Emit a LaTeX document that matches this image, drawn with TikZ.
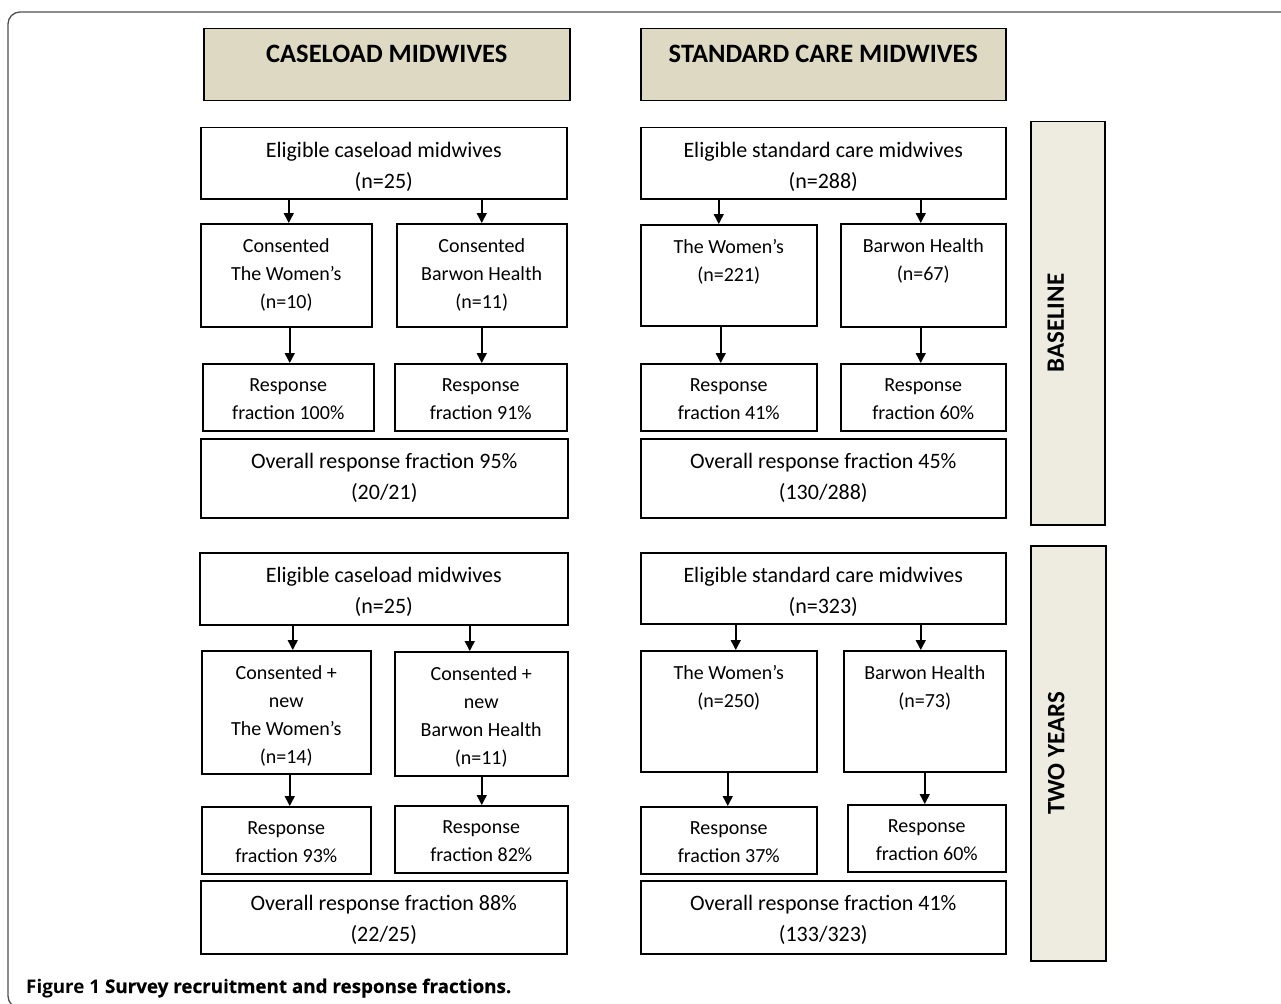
\documentclass[tikz,border=0pt]{standalone}
\usepackage{fontspec}
\setmainfont{Carlito}
\newfontfamily\capfont{Open Sans}
\newfontfamily\capmedium[FakeBold=0.4]{Open Sans}
\usetikzlibrary{arrows.meta,calc}
\definecolor{headfill}{HTML}{DDD9C3}
\definecolor{sidefill}{HTML}{EEECE1}
\definecolor{framegray}{HTML}{505050}
\tikzset{
	box/.style={draw,line width=1.5pt,anchor=north west,inner sep=0pt},
	big/.style={font=\fontsize{22}{31}\selectfont,align=center,anchor=north,inner sep=0pt,
		execute at begin node=\rule{0pt}{16pt}},
	small/.style={font=\fontsize{20}{28}\selectfont,align=center,anchor=north,inner sep=0pt,
		execute at begin node=\rule{0pt}{14.5pt}},
	head/.style={font=\fontsize{26.5}{30}\selectfont\bfseries,inner sep=0pt},
	arr/.style={->,line width=1.5pt},
}
% box: name, x, y, width, height, text style, text
\newcommand{\cellbox}[7]{%
	\node[box,minimum width=#4pt,minimum height=#5pt] (#1) at (#2,#3) {};
	\node[#6] (#1-t) at ([yshift=-15.5pt]#1.north) {#7};}
% arrow from box #1 down into box #2, moved sideways by #3
\newcommand{\flow}[3]{\draw[arr] ($(#2.north |- #1.south)+(#3,0)$) -- ($(#2.north)+(#3,0)$);}
\begin{document}
\begin{tikzpicture}[x=1pt,y=-1pt,>={Triangle[width=10pt,length=10pt]}]
	\useasboundingbox (0,0) rectangle (1281,1003);
	\draw[framegray,line width=1.3pt,rounded corners=12pt] (8,12) rectangle (1310,1008);
	% headings
	\node[box,fill=headfill,minimum width=366pt,minimum height=72pt] (hcl) at (203,28) {};
	\node[head] (hcl-t) at ([yshift=-26pt]hcl.north) {CASELOAD MIDWIVES};
	\node[box,fill=headfill,minimum width=365pt,minimum height=72pt] (hsc) at (640,28) {};
	\node[head] (hsc-t) at ([yshift=-26pt]hsc.north) {STANDARD CARE MIDWIVES};
	\node[box,fill=sidefill,minimum width=74pt,minimum height=403pt] (base) at (1030,121) {};
	\node[head,font=\fontsize{25}{30}\selectfont\bfseries,rotate=90] (base-t) at ([xshift=-12pt]base.center) {BASELINE};
	\node[box,fill=sidefill,minimum width=75pt,minimum height=415pt] (two) at (1030,545) {};
	\node[head,font=\fontsize{25}{30}\selectfont\bfseries,rotate=90] (two-t) at ([xshift=-12pt]two.center) {TWO YEARS};
	% baseline, caseload
	\cellbox{elc}{200}{127}{366}{71}{big}{Eligible caseload midwives\\(n=25)}
	\cellbox{cwl}{200}{223}{171}{103}{small}{Consented\\The Women’s\\(n=10)}
	\cellbox{cbl}{396}{223}{170}{103}{small}{Consented\\Barwon Health\\(n=11)}
	\cellbox{rwl}{202}{363}{171}{67}{small}{Response\\fraction 100\%}
	\cellbox{rbl}{394}{363}{172}{67}{small}{Response\\fraction 91\%}
	\cellbox{ovl}{200}{438}{367}{79}{big}{Overall response fraction 95\%\\(20/21)}
	% baseline, standard care
	\cellbox{els}{640}{127}{365}{71}{big}{Eligible standard care midwives\\(n=288)}
	\cellbox{cws}{640}{224}{176}{101}{small}{The Women’s\\(n=221)}
	\cellbox{cbs}{840}{223}{165}{103}{small}{Barwon Health\\(n=67)}
	\cellbox{rws}{640}{363}{176}{67}{small}{Response\\fraction 41\%}
	\cellbox{rbs}{840}{363}{165}{67}{small}{Response\\fraction 60\%}
	\cellbox{ovs}{640}{438}{365}{79}{big}{Overall response fraction 45\%\\(130/288)}
	% two years, caseload
	\cellbox{elc2}{199}{552}{368}{72}{big}{Eligible caseload midwives\\(n=25)}
	\cellbox{cwl2}{201}{650}{169}{123}{small}{Consented +\\new\\The Women’s\\(n=14)}
	\cellbox{cbl2}{394}{651}{173}{124}{small}{Consented +\\new\\Barwon Health\\(n=11)}
	\cellbox{rwl2}{201}{806}{169}{67}{small}{Response\\fraction 93\%}
	\cellbox{rbl2}{394}{805}{173}{67}{small}{Response\\fraction 82\%}
	\cellbox{ovl2}{200}{880}{366}{73}{big}{Overall response fraction 88\%\\(22/25)}
	% two years, standard care
	\cellbox{els2}{640}{552}{365}{71}{big}{Eligible standard care midwives\\(n=323)}
	\cellbox{cws2}{640}{650}{176}{121}{small}{The Women’s\\(n=250)}
	\cellbox{cbs2}{843}{650}{162}{121}{small}{Barwon Health\\(n=73)}
	\cellbox{rws2}{640}{806}{176}{67}{small}{Response\\fraction 37\%}
	\cellbox{rbs2}{847}{804}{158}{67}{small}{Response\\fraction 60\%}
	\cellbox{ovs2}{640}{880}{365}{73}{big}{Overall response fraction 41\%\\(133/323)}
	% arrows
	\flow{elc}{cwl}{2.5} \flow{elc}{cbl}{0}
	\flow{cwl}{rwl}{1.5} \flow{cbl}{rbl}{1}
	\flow{els}{cws}{-10} \flow{els}{cbs}{-2.5}
	\flow{cws}{rws}{-8} \flow{cbs}{rbs}{-2.5}
	\flow{elc2}{cwl2}{6.5} \flow{elc2}{cbl2}{-11.5}
	\flow{cwl2}{rwl2}{3.5} \flow{cbl2}{rbl2}{0.5}
	\flow{els2}{cws2}{7} \flow{els2}{cbs2}{-4}
	\flow{cws2}{rws2}{-1} \flow{cbs2}{rbs2}{-2}
	% caption
	\node[anchor=base west,inner sep=0pt,font=\fontsize{18.8}{22}\selectfont] (cap) at (26,993)
		{\capfont\bfseries Figure 1 \capmedium Survey recruitment and response fractions.};
\end{tikzpicture}
\end{document}
